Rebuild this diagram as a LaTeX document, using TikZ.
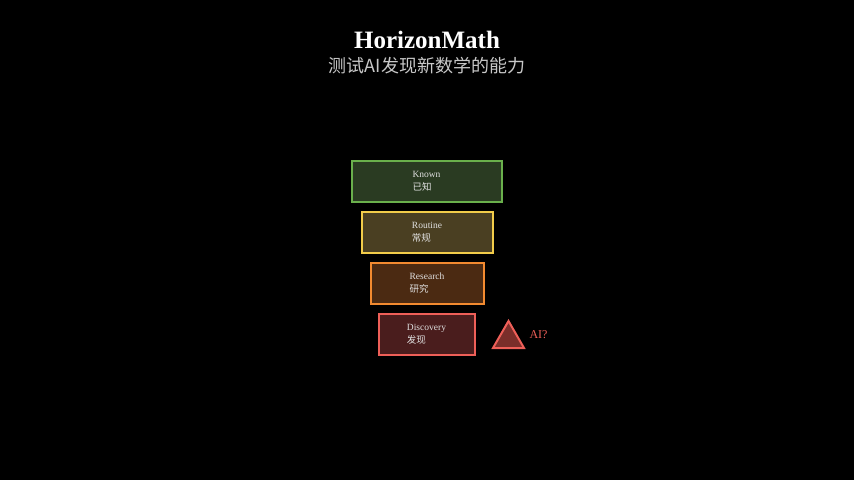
\documentclass[tikz,border=0pt]{standalone}
\usepackage{fontspec}
\setmainfont{Liberation Serif}
\newfontfamily\cjk{Noto Sans CJK SC}
\definecolor{knownfill}{HTML}{2A3B22}
\definecolor{knowndraw}{HTML}{6AB04C}
\definecolor{routinefill}{HTML}{4A3F22}
\definecolor{routinedraw}{HTML}{F2CC4A}
\definecolor{researchfill}{HTML}{4B2A12}
\definecolor{researchdraw}{HTML}{F28A30}
\definecolor{discfill}{HTML}{4A1D1D}
\definecolor{discdraw}{HTML}{EE5F58}
\definecolor{trifill}{HTML}{7A2E2A}
\definecolor{labeltext}{HTML}{E0E0E0}
\definecolor{subtext}{HTML}{C8C8C8}
\tikzset{
  levelbox/.style={draw, line width=2pt, inner sep=0pt, text=labeltext,
    align=left, font=\fontsize{9.5}{13}\selectfont},
}
\begin{document}
\begin{tikzpicture}[x=1pt,y=-1pt]
\fill[black] (0,0) rectangle (854,480);
\useasboundingbox (0,0) rectangle (854,480);
\node[text=white, font=\fontsize{25}{28}\selectfont\bfseries] (title) at (427,39.5) {HorizonMath};
\node[text=subtext, font=\cjk\fontsize{18}{20}\selectfont] (sub) at (427,65.5) {测试AI发现新数学的能力};
\node[levelbox, fill=knownfill, draw=knowndraw, minimum width=150pt, minimum height=41pt] (known) at (426.5,181) {Known\\{\cjk 已知}};
\node[levelbox, fill=routinefill, draw=routinedraw, minimum width=131pt, minimum height=41pt] (routine) at (427,232) {Routine\\{\cjk 常规}};
\node[levelbox, fill=researchfill, draw=researchdraw, minimum width=113pt, minimum height=41pt] (research) at (427,283) {Research\\{\cjk 研究}};
\node[levelbox, fill=discfill, draw=discdraw, minimum width=96pt, minimum height=41pt] (disc) at (426.5,334) {Discovery\\{\cjk 发现}};
\draw[fill=trifill, draw=discdraw, line width=2pt, line join=miter] (493,348) -- (508.5,321) -- (524,348) -- cycle;
\node[text=discdraw, font=\fontsize{12}{14}\selectfont, anchor=west] (ai) at (526,335) {AI?};
\end{tikzpicture}
\end{document}
